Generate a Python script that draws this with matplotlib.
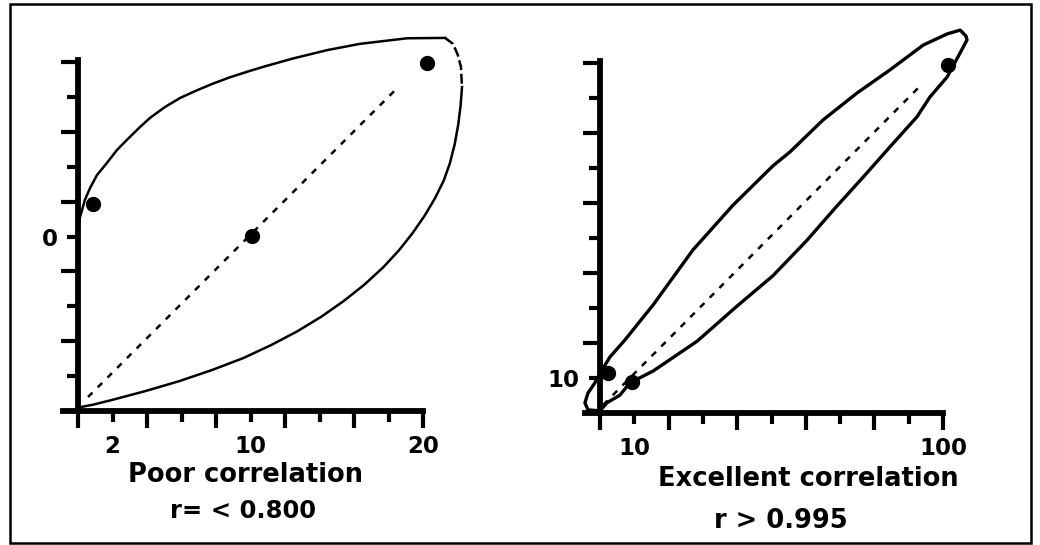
import matplotlib.pyplot as plt
from matplotlib.patches import Rectangle

plt.rcParams['font.family'] = ['DejaVu Sans']
plt.rcParams['font.weight'] = 'bold'

# values are in "tick units": 0..10 along each axis (schematic scales)

# left panel - poor correlation
poor_x = [0.43, 5.04, 10.12]
poor_y = [5.93, 5.01, 9.97]
poor_fit_x = [0.29, 9.28]
poor_fit_y = [0.40, 9.28]
poor_env_x = [0.0, 0.03, 0.06, 0.20, 0.35, 0.55, 0.84, 1.13, 1.42, 1.80, 2.09, 2.52,
              2.96, 3.45, 3.91, 4.40, 4.90, 5.40, 6.23, 7.22, 8.17, 9.54, 10.64]
poor_env_y = [4.9, 5.39, 5.56, 6.05, 6.39, 6.76, 7.11, 7.48, 7.77, 8.14, 8.40, 8.71,
              8.97, 9.19, 9.38, 9.56, 9.72, 9.87, 10.10, 10.34, 10.52, 10.68, 10.69]
poor_arc_x = [10.64, 10.87, 11.01, 11.10, 11.13]
poor_arc_y = [10.69, 10.52, 10.20, 9.86, 9.28]
poor_low_x = [11.13, 11.09, 11.02, 10.92, 10.78, 10.60, 10.35, 10.05, 9.70, 9.30, 8.85,
              8.30, 7.70, 7.05, 6.35, 5.60, 4.80, 3.90, 2.95, 1.95, 1.00, 0.43, 0.06]
poor_low_y = [9.28, 8.75, 8.20, 7.65, 7.10, 6.60, 6.10, 5.60, 5.10, 4.60, 4.12,
              3.62, 3.15, 2.70, 2.28, 1.89, 1.52, 1.18, 0.86, 0.57, 0.32, 0.18, 0.11]
poor_xlabels = {1: "2", 5: "10", 10: "20"}
poor_ylabels = {5: "0"}

# right panel - excellent correlation
good_x = [0.23, 0.93, 10.15]
good_y = [1.14, 0.89, 9.94]
good_fit_x = [0.09, 9.33]
good_fit_y = [0.23, 9.34]
good_env_x = [0.0, -0.35, -0.44, -0.35, -0.15, 0.06, 0.29, 0.73, 1.55, 2.71, 3.88, 5.04,
              5.54, 6.50, 7.49, 8.45, 9.42, 10.12, 10.50, 10.67, 10.70, 10.50, 10.12,
              9.62, 9.24, 8.45, 7.70, 6.85, 6.03, 5.04, 3.99, 2.83, 1.55, 0.87, 0.58,
              0.20, 0.0]
good_env_y = [0.06, 0.09, 0.29, 0.57, 0.86, 1.23, 1.60, 2.09, 3.09, 4.66, 5.94, 7.06,
              7.46, 8.37, 9.14, 9.80, 10.51, 10.83, 10.94, 10.77, 10.66, 10.29, 9.60,
              9.03, 8.46, 7.60, 6.77, 5.85, 4.93, 3.92, 3.05, 2.05, 1.20, 0.86, 0.51,
              0.29, 0.06]
good_xlabels = {1: "10", 10: "100"}
good_ylabels = {1: "10"}

W, H = 1040, 545
fig = plt.figure(figsize=(W / 100, H / 100), dpi=100)


def make_axes(box, origin, scale):
    # box: (left, top, right, bottom) in pixels, origin: pixel of (0, 0)
    l, t, r, b = box
    ax = fig.add_axes([l / W, 1 - b / H, (r - l) / W, (b - t) / H])
    ax.set_xlim((l - origin[0]) / scale[0], (r - origin[0]) / scale[0])
    ax.set_ylim((origin[1] - b) / scale[1], (origin[1] - t) / scale[1])
    ax.patch.set_visible(False)
    return ax


def style_axes(ax, xlabels, ylabels, x_start):
    ax.spines['top'].set_visible(False)
    ax.spines['right'].set_visible(False)
    for s in ('left', 'bottom'):
        ax.spines[s].set_position(('data', 0))
        ax.spines[s].set_linewidth(4.2)
    ax.spines['left'].set_bounds(0, 10.05)
    ax.spines['bottom'].set_bounds(x_start, 10)
    major = list(range(0, 11, 2))
    minor = list(range(1, 10, 2))
    ax.set_xticks(major, [xlabels.get(i, "") for i in major])
    ax.set_xticks(minor, [xlabels.get(i, "") for i in minor], minor=True)
    ax.set_yticks(major, [ylabels.get(i, "") for i in major])
    ax.set_yticks(minor, [ylabels.get(i, "") for i in minor], minor=True)
    ax.tick_params(which='major', length=12.2, width=3.0, pad=5, labelsize=16.5)
    ax.tick_params(which='minor', length=8, width=3.0, pad=9.5, labelsize=16.5)
    ax.tick_params(axis='y', which='minor', pad=6.5)


# left
ax1 = make_axes((30, 20, 490, 440), (78, 411), (34.5, 34.9))
ax1.plot(poor_env_x, poor_env_y, color='k', lw=1.8)
ax1.plot(poor_arc_x, poor_arc_y, color='k', lw=1.8, dashes=(4, 1.5))
ax1.plot(poor_low_x, poor_low_y, color='k', lw=1.8)
ax1.plot(poor_fit_x, poor_fit_y, color='k', lw=1.8, dashes=(2.5, 3))
ax1.plot(poor_x, poor_y, 'o', color='k', ms=10)
style_axes(ax1, poor_xlabels, poor_ylabels, -0.43)

# right
ax2 = make_axes((540, 20, 1010, 440), (600, 413), (34.3, 35.0))
ax2.plot(good_env_x, good_env_y, color='k', lw=2.4)
ax2.plot(good_fit_x, good_fit_y, color='k', lw=1.8, dashes=(2.5, 3))
ax2.plot(good_x, good_y, 'o', color='k', ms=10)
style_axes(ax2, good_xlabels, good_ylabels, -0.44)

fig.text(245 / W, 1 - 475 / H, "Poor correlation", ha='center', va='center', fontsize=18.5)
fig.text(243 / W, 1 - 511 / H, "r= < 0.800", ha='center', va='center', fontsize=17.5)
fig.text(808 / W, 1 - 479 / H, "Excellent correlation", ha='center', va='center', fontsize=18.5)
fig.text(781 / W, 1 - 521 / H, "r > 0.995", ha='center', va='center', fontsize=18.5)

# frame around the whole figure
fig.add_artist(Rectangle((10 / W, 2 / H), 1021 / W, 539 / H, transform=fig.transFigure,
                         fill=False, lw=1.8, ec='k'))

fig.savefig('out.png', dpi=100)
